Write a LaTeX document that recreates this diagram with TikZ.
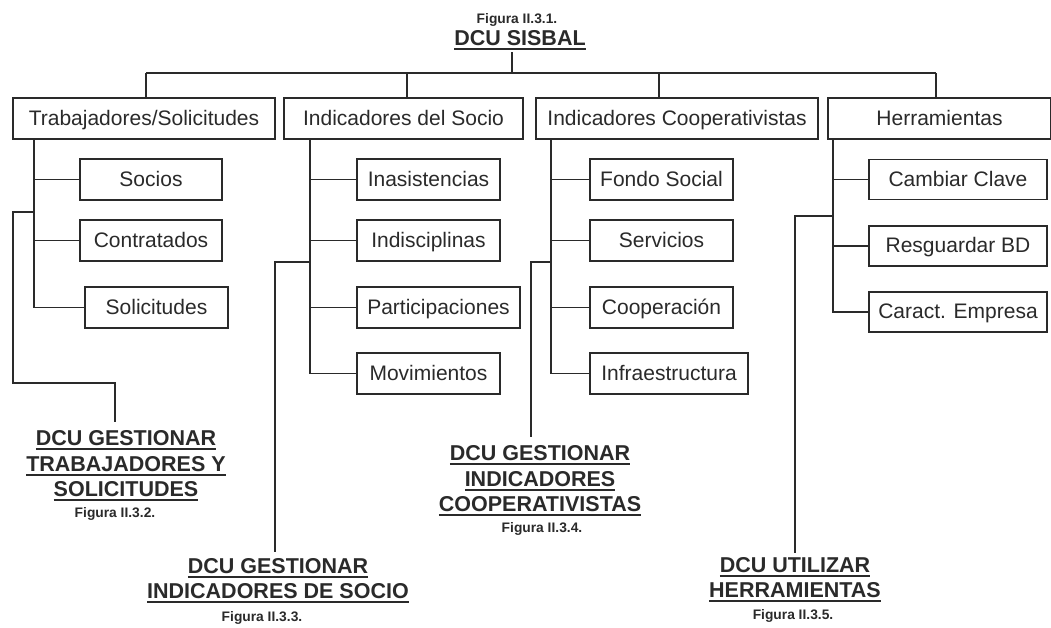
\documentclass[tikz,border=0pt]{standalone}
\usepackage{fontspec}
\setmainfont{Liberation Sans}
\definecolor{ink}{HTML}{2A2A2A}
\newsavebox\ulbox
\newcommand\myul[1]{\sbox\ulbox{#1}\rlap{\rule[-4.8pt]{\wd\ulbox}{1.7pt}}\usebox\ulbox}
\begin{document}
\begin{tikzpicture}[x=1pt,y=-1pt,
  wire/.style={draw=ink, line width=1.8pt},
  box/.style={draw=ink, line width=1.8pt, fill=white, inner sep=0pt, minimum height=41pt,
    text height=17pt, text depth=4pt,
    font=\fontsize{21}{25}\selectfont, text=ink},
  ttl/.style={font=\bfseries\fontsize{21.5}{25}\selectfont, anchor=base, inner sep=0pt, text=ink},
  fig/.style={font=\bfseries\fontsize{13.8}{15}\selectfont, anchor=base, inner sep=0pt, text=ink}]
\useasboundingbox (0,0) rectangle (1051,627);

% root
\node[fig] (f1) at (517,23) {Figura II.3.1.};
\node[ttl] (root) at (520,45) {\myul{DCU SISBAL}};

% top level boxes
\node[box, minimum width=262pt] (T) at (144,118.5) {Trabajadores/Solicitudes};
\node[box, minimum width=239pt] (S) at (403.5,118.5) {Indicadores del Socio};
\node[box, minimum width=282pt] (C) at (677,118.5) {Indicadores Cooperativistas};
\node[box, minimum width=223pt] (H) at (939.5,118.5) {Herramientas};

% bus
\coordinate (rf) at (512,52);
\coordinate (bus) at (512,73);
\coordinate (dT) at (146,73);
\coordinate (dS) at (407,73);
\coordinate (dC) at (659,73);
\coordinate (dH) at (936,73);
\draw[wire] (rf) -- (bus);
\draw[wire] (dT) -- (dH);
\draw[wire] (dT) -- (dT |- T.north);
\draw[wire] (dS) -- (dS |- S.north);
\draw[wire] (dC) -- (dC |- C.north);
\draw[wire] (dH) -- (dH |- H.north);

% column T
\node[box, minimum width=142pt] (soc) at (151,179.5) {Socios};
\node[box, minimum width=142pt] (con) at (151,240.5) {Contratados};
\node[box, minimum width=143pt] (sol) at (156.5,307.5) {Solicitudes};
\coordinate (vT) at (34,139);
\draw[wire] (vT) |- (sol.west);
\draw[wire] (vT |- soc.west) -- (soc.west);
\draw[wire] (vT |- con.west) -- (con.west);

% column S
\node[box, minimum width=143pt] (ina) at (428.5,179.5) {Inasistencias};
\node[box, minimum width=143pt] (ind) at (428.5,240.5) {Indisciplinas};
\node[box, minimum width=163pt] (par) at (438.5,307.5) {Participaciones};
\node[box, minimum width=143pt] (mov) at (428.5,373.5) {Movimientos};
\coordinate (vS) at (310,139);
\draw[wire] (vS) |- (mov.west);
\draw[wire] (vS |- ina.west) -- (ina.west);
\draw[wire] (vS |- ind.west) -- (ind.west);
\draw[wire] (vS |- par.west) -- (par.west);

% column C
\node[box, minimum width=143pt] (fon) at (661.5,179.5) {Fondo Social};
\node[box, minimum width=143pt] (ser) at (661.5,240.5) {Servicios};
\node[box, minimum width=143pt] (coo) at (661.5,307.5) {Cooperación};
\node[box, minimum width=158pt] (inf) at (669,373.5) {Infraestructura};
\coordinate (vC) at (551,139);
\draw[wire] (vC) |- (inf.west);
\draw[wire] (vC |- fon.west) -- (fon.west);
\draw[wire] (vC |- ser.west) -- (ser.west);
\draw[wire] (vC |- coo.west) -- (coo.west);

% column H
\node[box, minimum width=178pt, minimum height=40pt] (cam) at (958,179.5) {Cambiar Clave};
\node[box, minimum width=178pt, minimum height=40pt] (res) at (958,246) {Resguardar BD};
\node[box, minimum width=178pt, minimum height=40pt] (car) at (958,312) {Caract. Empresa};
\coordinate (vH) at (833,139);
\draw[wire] (vH) |- (car.west);
\draw[wire] (vH |- cam.west) -- (cam.west);
\draw[wire] (vH |- res.west) -- (res.west);

% sub-diagram references
\coordinate (jT) at (34,212);
\coordinate (eT) at (115,422);
\draw[wire] (jT) -- (13,212) -- (13,383) -| (eT);
\node[ttl] (tA) at (126,445) {\myul{DCU GESTIONAR}};
\node[ttl] (tB) at (126,471) {\myul{TRABAJADORES Y}};
\node[ttl] (tC) at (126,496) {\myul{SOLICITUDES}};
\node[fig] (tF) at (115,517) {Figura II.3.2.};

\coordinate (jS) at (310,262);
\coordinate (eS) at (275,552);
\draw[wire] (jS) -| (eS);
\node[ttl] (sA) at (278,573) {\myul{DCU GESTIONAR}};
\node[ttl] (sB) at (278,598) {\myul{INDICADORES DE SOCIO}};
\node[fig] (sF) at (262,621) {Figura II.3.3.};

\coordinate (jC) at (551,262);
\coordinate (eC) at (531,437);
\draw[wire] (jC) -| (eC);
\node[ttl] (cA) at (540,460) {\myul{DCU GESTIONAR}};
\node[ttl] (cB) at (540,486) {\myul{INDICADORES}};
\node[ttl] (cC) at (540,511) {\myul{COOPERATIVISTAS}};
\node[fig] (cF) at (542,532) {Figura II.3.4.};

\coordinate (jH) at (833,216);
\coordinate (eH) at (795,553);
\draw[wire] (jH) -| (eH);
\node[ttl] (hA) at (795,572) {\myul{DCU UTILIZAR}};
\node[ttl] (hB) at (795,597) {\myul{HERRAMIENTAS}};
\node[fig] (hF) at (793,619) {Figura II.3.5.};
\end{tikzpicture}
\end{document}
